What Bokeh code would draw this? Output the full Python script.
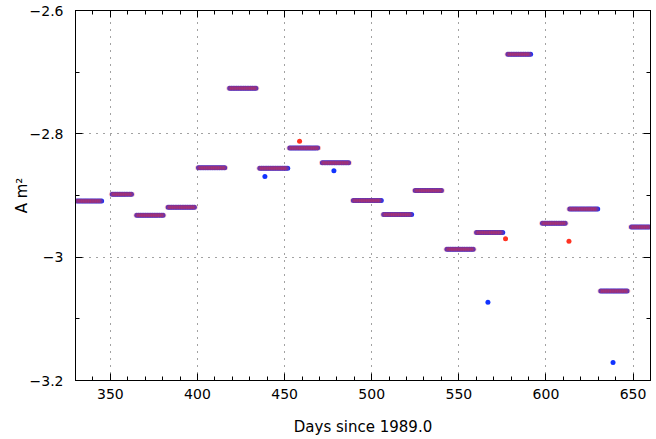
import numpy as np
from bokeh.plotting import figure
from bokeh.models import FixedTicker, LinearAxis, CustomJSTickFormatter, Range1d
from bokeh.embed import file_html
from bokeh.resources import INLINE

# Segment data (days since 1989.0, value in A m^2)
seg_start = [330.5, 350.6, 364.7, 382.7, 400.1, 418.0, 435.3, 452.5, 471.2, 489.0,
             506.4, 524.5, 542.7, 559.7, 577.7, 597.5, 613.2, 631.0, 648.6]
seg_end = [345.0, 363.0, 380.9, 398.7, 416.5, 434.1, 451.9, 469.6, 487.4, 505.6,
           523.2, 540.5, 558.8, 575.5, 591.4, 611.5, 629.7, 647.3, 660.0]
seg_value = [-2.909, -2.898, -2.932, -2.919, -2.855, -2.726, -2.856, -2.823, -2.847, -2.908,
             -2.931, -2.892, -2.987, -2.960, -2.671, -2.945, -2.922, -3.055, -2.951]

blue_out_x = [438.7, 478.3, 566.7, 638.5]
blue_out_y = [-2.869, -2.860, -3.073, -3.171]
red_out_x = [458.6, 576.8, 613.2]
red_out_y = [-2.812, -2.970, -2.974]

x_ticks = [350, 400, 450, 500, 550, 600, 650]
x_minor = list(range(330, 661, 10))
y_ticks = [-3.2, -3.0, -2.8, -2.6]
y_minor = [-3.2, -3.1, -3.0, -2.9, -2.8, -2.7, -2.6]

RED = "#ff3322"
BLUE = "#1133ff"
FONT = "DejaVu Sans"

rx, ry, bx, by = [], [], [], []
for s, e, v in zip(seg_start, seg_end, seg_value):
    xs = np.arange(s, e + 0.01, 1.0)
    rx += list(xs); ry += [v] * len(xs)
    xb = np.arange(s + 0.5, e + 0.01, 1.0)
    bx += list(xb); by += [v] * len(xb)

p = figure(width=656, height=439, output_backend="svg", toolbar_location=None,
           x_range=Range1d(330, 660), y_range=Range1d(-3.2, -2.6),
           min_border_left=75, min_border_right=6, min_border_top=10, min_border_bottom=59)
p.background_fill_color = "white"
p.border_fill_color = "white"
p.outline_line_color = "black"
p.outline_line_width = 1

fmt = CustomJSTickFormatter(code="""
    var a = parseFloat(Math.abs(tick).toFixed(2)).toString();
    return (tick < 0 ? "\\u2212" : "") + a;
""")
blank = CustomJSTickFormatter(code="return '';")

xt = FixedTicker(ticks=x_ticks, minor_ticks=x_minor)
yt = FixedTicker(ticks=y_ticks, minor_ticks=y_minor)

bottom = p.xaxis[0]
left = p.yaxis[0]
bottom.ticker = xt
bottom.formatter = fmt
left.ticker = yt
left.formatter = fmt
bottom.axis_label = "Days since 1989.0"
left.axis_label = "A m\u00b2"

top = LinearAxis(ticker=xt, formatter=blank, major_label_standoff=0)
right = LinearAxis(ticker=yt, formatter=blank, major_label_standoff=0)
p.add_layout(top, "above")
p.add_layout(right, "right")

for ax in [bottom, left, top, right]:
    ax.axis_line_color = "black"
    ax.major_tick_line_color = "black"
    ax.minor_tick_line_color = "black"
    ax.major_tick_in = 7
    ax.major_tick_out = 0
    ax.minor_tick_in = 4
    ax.minor_tick_out = 0
    ax.major_label_text_font = FONT
    ax.major_label_text_font_size = "14px"
    ax.major_label_text_color = "black"
    ax.axis_label_text_font = FONT
    ax.axis_label_text_font_size = "15px"
    ax.axis_label_text_font_style = "normal"
    ax.axis_label_text_color = "black"

bottom.major_label_standoff = 8
left.major_label_standoff = 12
bottom.axis_label_standoff = 16
left.axis_label_standoff = -4

p.xgrid.ticker = xt
p.ygrid.ticker = yt
for g in [p.xgrid, p.ygrid]:
    g.grid_line_color = "#444444"
    g.grid_line_dash = "1 6"
    g.grid_line_width = 1

p.scatter(bx, by, size=5, color=BLUE, alpha=1.0, line_width=0)
p.scatter(rx, ry, size=5, color=RED, alpha=0.28, line_width=0)
p.scatter(blue_out_x, blue_out_y, size=5, color=BLUE, line_width=0)
p.scatter(red_out_x, red_out_y, size=5, color=RED, line_width=0)

open("out.html", "w").write(file_html(p, INLINE))
